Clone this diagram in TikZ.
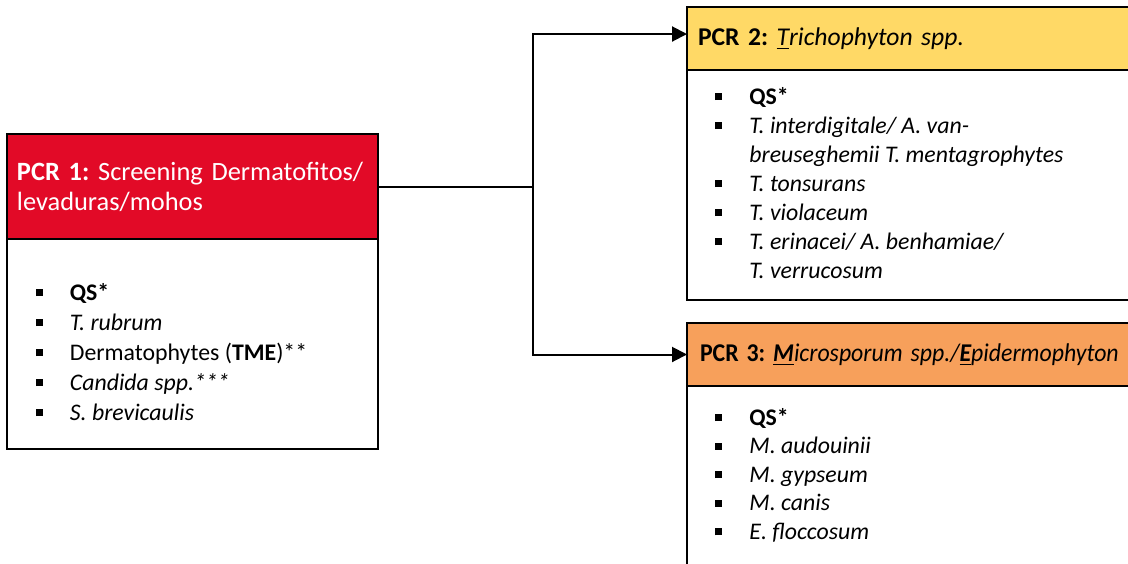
\documentclass[tikz,border=0pt]{standalone}
\usepackage{fontspec}
\setmainfont{Carlito}
\frenchspacing
\usetikzlibrary{positioning,arrows.meta}
\definecolor{pcrred}{HTML}{E20A27}
\definecolor{pcryellow}{HTML}{FFD966}
\definecolor{pcrorange}{HTML}{F7A05B}
\tikzset{>={Triangle[length=7.5pt,width=7.5pt]}}
\tikzstyle{header}=[rectangle, draw, line width=0.75pt, outer sep=0pt, inner xsep=5.5pt, align=left, anchor=north west, font=\fontsize{12.8}{15}\selectfont]
\tikzstyle{bodybox}=[rectangle, draw, line width=0.75pt, outer sep=0pt]
\tikzstyle{itemlist}=[inner sep=0pt, anchor=north west, align=left, font=\fontsize{11.9}{14.5}\selectfont]
\newcommand{\bul}{\llap{\rule[2pt]{3.5pt}{3.5pt}\hspace{13.5pt}}}

\begin{document}
\begin{tikzpicture}[x=1pt, y=-1pt]
\useasboundingbox (0,0) rectangle (564,281.5);
\clip (0,0) rectangle (564,281.5);
% screening
\node[header, fill=pcrred, text=white, minimum height=52.5pt, text width=175.5pt, inner xsep=5pt, font=\fontsize{13.2}{15}\selectfont] (pcr1) at (3.5,67) {\raisebox{-1pt}{\textbf{PCR 1:} Screening Dermatofitos/}\\\raisebox{-1pt}{levaduras/mohos}};
\node[bodybox, minimum width=185.5pt, minimum height=105pt, below=0pt of pcr1] (body1) {};
\node[itemlist, font=\fontsize{11.9}{15}\selectfont] (list1) at (34.75,141.3) {\bul\textbf{QS*}\\
\bul\textit{T. rubrum}\\
\bul Dermatophytes (\textbf{TME})**\\
\bul\textit{Candida spp.***}\\
\bul\textit{S. brevicaulis}};
% trichophyton
\node[header, fill=pcryellow, minimum height=31.5pt, text width=229pt] (pcr2) at (343.5,3.5) {\raisebox{1pt}{\textbf{PCR 2:} \textit{\underline{T}richophyton spp.}}};
\node[bodybox, minimum width=240pt, minimum height=115pt, below=0pt of pcr2] (body2) {};
\node[itemlist] (list2) at (374.5,43.3) {\bul\textbf{QS*}\\
\bul\textit{T. interdigitale/ A. van-}\\
\textit{breuseghemii T. mentagrophytes}\\
\bul\textit{T. tonsurans}\\
\bul\textit{T. violaceum}\\
\bul\textit{T. erinacei/ A. benhamiae/}\\
\textit{T. verrucosum}};
% microsporum / epidermophyton
\node[header, fill=pcrorange, minimum height=31.5pt, text width=227pt, inner xsep=6.5pt] (pcr3) at (343.5,161.5) {\scalebox{0.93}[1]{\textbf{PCR 3: \textit{\underline{M}}}\textit{icrosporum spp./\textbf{\underline{E}}pidermophyton}}};
\node[bodybox, minimum width=240pt, minimum height=150pt, below=0pt of pcr3] (body3) {};
\node[itemlist, font=\fontsize{11.9}{14.3}\selectfont] (list3) at (374.5,203.8) {\bul\textbf{QS*}\\
\bul\textit{M. audouinii}\\
\bul\textit{M. gypseum}\\
\bul\textit{M. canis}\\
\bul\textit{E. floccosum}};
% connectors
\coordinate (fork) at (266.5,93.25);
\draw[line width=1pt] (pcr1.east) -- (fork);
\draw[->, line width=1pt] (fork) |- ([yshift=2.25pt]pcr2.west);
\draw[->, line width=1pt] (fork) |- (pcr3.west);
\end{tikzpicture}
\end{document}
